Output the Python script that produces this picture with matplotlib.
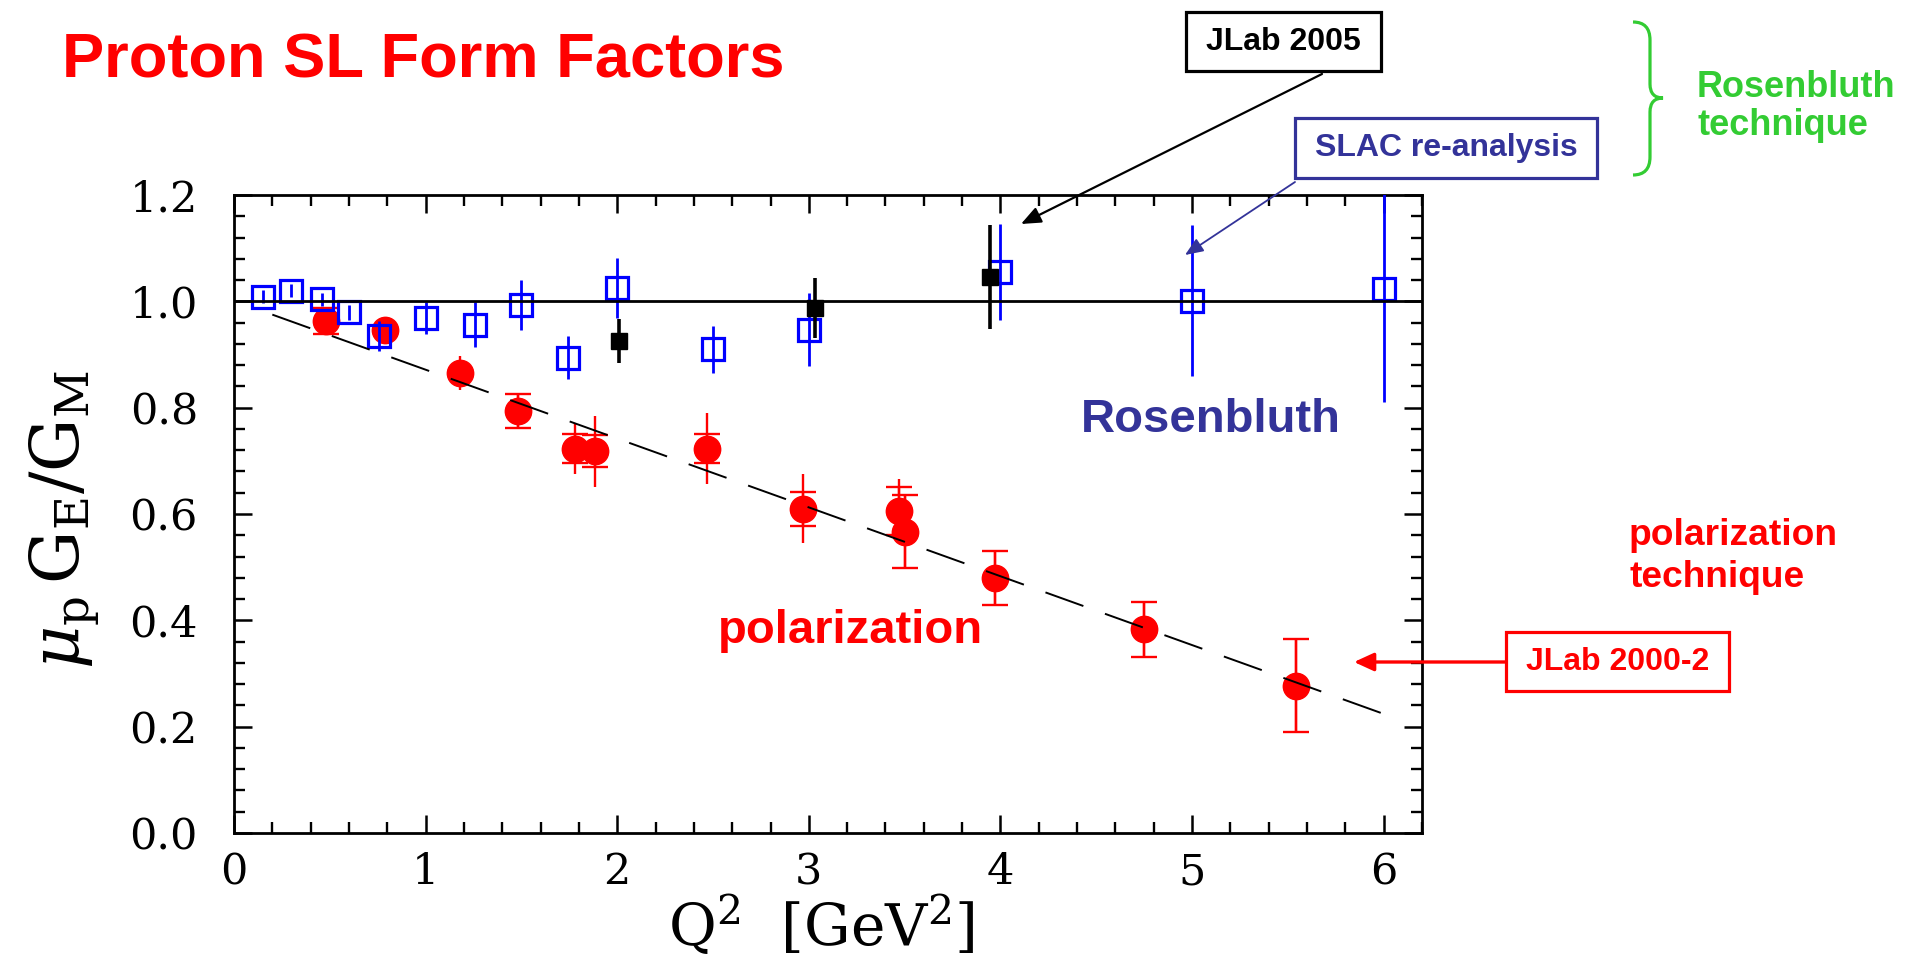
import numpy as np
import matplotlib
matplotlib.use("Agg")
import matplotlib.pyplot as plt
from matplotlib.patches import Rectangle, FancyArrowPatch, PathPatch
from matplotlib.path import Path
from matplotlib.transforms import Affine2D
from matplotlib.ticker import MultipleLocator, FixedLocator, FixedFormatter

plt.rcParams["font.family"] = "DejaVu Serif"
plt.rcParams["mathtext.fontset"] = "dejavuserif"
plt.rcParams["lines.scale_dashes"] = False

# ---------------------------------------------------------------- data
# Recoil polarization measurements (JLab 2000-2)
q2_pol = [0.48, 0.79, 1.18, 1.48, 1.78, 1.885, 2.47, 2.97, 3.47, 3.50, 3.97, 4.75, 5.54]
ratio_pol = [0.963, 0.947, 0.866, 0.794, 0.723, 0.718, 0.723, 0.610, 0.606, 0.567, 0.480, 0.383, 0.277]
err_pol_total = [0.025, 0.012, 0.032, 0.032, 0.048, 0.067, 0.067, 0.065, 0.060, 0.069, 0.051, 0.052, 0.087]
err_pol_stat = [0.025, np.nan, np.nan, 0.032, 0.027, 0.030, 0.027, 0.032, 0.045, 0.069, 0.051, 0.052, 0.087]

# SLAC Rosenbluth re-analysis
q2_slac = [0.15, 0.30, 0.46, 0.60, 0.755, 1.00, 1.26, 1.50, 1.745, 2.00, 2.50, 3.00, 4.00, 5.00, 6.00]
ratio_slac = [1.009, 1.020, 1.004, 0.979, 0.935, 0.968, 0.956, 0.993, 0.894, 1.025, 0.910, 0.947, 1.055, 1.001, 1.023]
err_slac = [0.012, 0.012, 0.012, 0.015, 0.028, 0.030, 0.042, 0.047, 0.040, 0.056, 0.044, 0.068, 0.090, 0.142, 0.213]

# JLab 2005 Rosenbluth
q2_jlab05 = [2.01, 3.03, 3.944]
ratio_jlab05 = [0.925, 0.987, 1.046]
err_jlab05 = [0.041, 0.056, 0.098]

# Linear fit through the polarization points
fit_q2 = [0.2, 6.0]
fit_ratio = [0.975, 0.224]

x_ticks = [0, 1, 2, 3, 4, 5, 6]
x_tick_labels = ["0", "1", "2", "3", "4", "5", "6"]
y_ticks = [0.0, 0.2, 0.4, 0.6, 0.8, 1.0, 1.2]
y_tick_labels = ["0.0", "0.2", "0.4", "0.6", "0.8", "1.0", "1.2"]

# ---------------------------------------------------------------- figure
W, H = 1907, 960
fig = plt.figure(figsize=(W / 100, H / 100), dpi=100)
fig.patch.set_facecolor("white")

RED = "#ff0000"
BLUE = "#0000ff"
NAVY = "#333399"
GREEN = "#33cc33"
SANS = "Liberation Sans"


def fpx(x, y):
    """Pixel position (origin top-left) to figure fraction."""
    return (x / W, 1 - y / H)


ax = fig.add_axes([234 / W, 1 - 833 / H, (1422 - 234) / W, (833 - 195) / H])
ax.set_xlim(0, 6.2)
ax.set_ylim(0, 1.2)

# polarization points
ax.errorbar(q2_pol, ratio_pol, yerr=err_pol_total, fmt="o", color=RED, ms=19,
            elinewidth=1.7, capsize=0, zorder=3)
ax.errorbar(q2_pol, ratio_pol, yerr=err_pol_stat, fmt="none", ecolor=RED,
            elinewidth=1.7, capsize=9.5, capthick=1.7, zorder=3)

# SLAC re-analysis (open squares)
ax.errorbar(q2_slac, ratio_slac, yerr=err_slac, fmt="s", ms=15.5, mfc="none",
            mec=BLUE, mew=2.3, ecolor=BLUE, elinewidth=2.0, capsize=0, zorder=4)

# JLab 2005 (filled squares)
ax.errorbar(q2_jlab05, ratio_jlab05, yerr=err_jlab05, fmt="s", ms=12, color="black",
            elinewidth=2.6, capsize=0, zorder=5)

# reference lines
ax.axhline(1.0, color="black", lw=2.0, zorder=6)
ax.plot(fit_q2, fit_ratio, color="black", lw=1.4, dashes=(29, 16.5), zorder=6)

# axes styling
for sp in ax.spines.values():
    sp.set_linewidth(2.0)
ax.xaxis.set_major_locator(FixedLocator(x_ticks))
ax.xaxis.set_major_formatter(FixedFormatter(x_tick_labels))
ax.yaxis.set_major_locator(FixedLocator(y_ticks))
ax.yaxis.set_major_formatter(FixedFormatter(y_tick_labels))
ax.xaxis.set_minor_locator(MultipleLocator(0.2))
ax.yaxis.set_minor_locator(MultipleLocator(0.04))
ax.tick_params(which="both", direction="in", top=True, right=True)
ax.tick_params(which="major", length=13, width=1.8, labelsize=31)
ax.tick_params(which="minor", length=8, width=1.7)
ax.tick_params(axis="y", which="major", pad=26)
ax.tick_params(axis="x", which="major", pad=13)

# axis titles
fig.text(*fpx(65, 520), r"$\mu_{\rm p}\,{\rm G}_{\rm E}/{\rm G}_{\rm M}$", rotation=90,
         ha="center", va="center", fontsize=48)
fig.text(*fpx(821, 925), r"${\rm Q}^2\ \ [{\rm GeV}^2]$", ha="center", va="center",
         fontsize=42)

# ---------------------------------------------------------------- annotations
fig.text(*fpx(62, 77), "Proton SL Form Factors", color=RED, fontsize=45.5,
         fontweight="bold", family=SANS, va="baseline", ha="left")

fig.text(*fpx(1081, 432), "Rosenbluth", color=NAVY, fontsize=34,
         fontweight="bold", family=SANS, va="baseline", ha="left")
fig.text(*fpx(718, 643), "polarization", color=RED, fontsize=34,
         fontweight="bold", family=SANS, va="baseline", ha="left")

fig.text(*fpx(1629, 545), "polarization", color=RED, fontsize=26.7,
         fontweight="bold", family=SANS, va="baseline", ha="left")
fig.text(*fpx(1629, 587), "technique", color=RED, fontsize=26.7,
         fontweight="bold", family=SANS, va="baseline", ha="left")

fig.text(*fpx(1697, 97), "Rosenbluth", color=GREEN, fontsize=26,
         fontweight="bold", family=SANS, va="baseline", ha="left")
fig.text(*fpx(1697, 135), "technique", color=GREEN, fontsize=26,
         fontweight="bold", family=SANS, va="baseline", ha="left")


def boxed_label(x0, y0, x1, y1, text, color, size):
    (fx0, fy1) = fpx(x0, y1)
    rect = Rectangle((fx0, fy1), (x1 - x0) / W, (y1 - y0) / H, transform=fig.transFigure,
                     fill=True, facecolor="white", edgecolor=color, lw=2.3, zorder=10)
    fig.add_artist(rect)
    fig.text(*fpx((x0 + x1) / 2, (y0 + y1) / 2), text, color=color, fontsize=size,
             fontweight="bold", family=SANS, ha="center", va="center", zorder=11)


def arrow(x0, y0, x1, y1, color, lw, hl, hw):
    arr = FancyArrowPatch(fpx(x0, y0), fpx(x1, y1), transform=fig.transFigure,
                          arrowstyle=f"-|>,head_length={hl},head_width={hw}",
                          mutation_scale=1, color=color, lw=lw,
                          shrinkA=0, shrinkB=0, zorder=9)
    fig.add_artist(arr)


boxed_label(1186, 12, 1381, 71, "JLab 2005", "black", 23)
boxed_label(1295, 118, 1597, 178, "SLAC re-analysis", NAVY, 23)
boxed_label(1506, 632, 1729, 691, "JLab 2000-2", RED, 23)

arrow(1322, 74, 1021, 224, "black", 1.6, 12, 5)
arrow(1295, 182, 1185, 255, NAVY, 1.3, 11, 4.5)
arrow(1506, 662, 1354, 662, RED, 2.4, 12, 5.5)

# curly brace grouping the Rosenbluth results
brace_verts = [(1633, 22), (1650, 22), (1650, 40), (1650, 84), (1650, 98), (1663, 98),
               (1650, 98), (1650, 112), (1650, 157), (1650, 175), (1633, 175)]
brace_codes = [Path.MOVETO, Path.CURVE3, Path.CURVE3, Path.LINETO, Path.CURVE3, Path.CURVE3,
               Path.CURVE3, Path.CURVE3, Path.LINETO, Path.CURVE3, Path.CURVE3]
brace = PathPatch(Path(brace_verts, brace_codes), facecolor="none", edgecolor=GREEN, lw=2.3,
                  transform=Affine2D().scale(1 / W, -1 / H).translate(0, 1) + fig.transFigure)
fig.add_artist(brace)

fig.savefig("out.png", dpi=100)
